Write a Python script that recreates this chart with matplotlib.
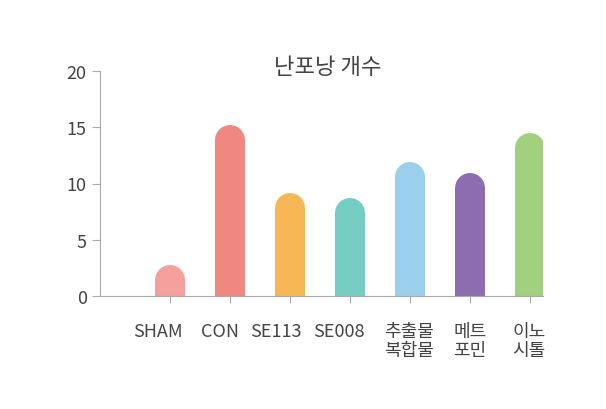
import matplotlib
matplotlib.use('Agg')
import matplotlib.pyplot as plt
import matplotlib.transforms as mtransforms

plt.rcParams['font.family'] = ['Noto Sans CJK KR', 'DejaVu Sans']

labels = ['SHAM', 'CON', 'SE113', 'SE008', '추출물\n복합물', '메트\n포민', '이노\n시톨']
values = [2.8, 15.2, 9.2, 8.7, 11.9, 10.9, 14.5]
colors = ['#f4a09c', '#ee8880', '#f8b755', '#74cdc0', '#9bcfec', '#8d6cb0', '#a1d07e']
label_shift_px = [-12, -10, -14, -11, -1, 0, -1]

fig = plt.figure(figsize=(6.06, 4.10), dpi=100)
ax = fig.add_axes([100/606, 113/410, 443/606, 225/410])
ax.set_xlim(-1.17, 6.22)
ax.set_ylim(0, 20)

# rounded-top bars: thick line with round cap, bottom cap clipped by axes
bar_px = 30
lw = bar_px * 72 / 100
r = (bar_px / 2) / (225 / 20)
for i, (v, c) in enumerate(zip(values, colors)):
    ax.plot([i, i], [-2, v - r], color=c, linewidth=lw, solid_capstyle='round')

for s in ['top', 'right']:
    ax.spines[s].set_visible(False)
for s in ['left', 'bottom']:
    ax.spines[s].set_color('#aaaaaa')
ax.set_yticks([0, 5, 10, 15, 20])
ax.set_xticks(range(len(labels)))
ax.set_xticklabels([])
ax.tick_params(axis='y', colors='#aaaaaa', labelcolor='#444444', labelsize=13, length=6)
ax.tick_params(axis='x', colors='#aaaaaa', length=5)

for i, (lab, dx) in enumerate(zip(labels, label_shift_px)):
    tr = ax.get_xaxis_transform() + mtransforms.ScaledTranslation(dx / 100, -26 / 100, fig.dpi_scale_trans)
    ax.text(i, 0, lab, transform=tr, ha='center', va='top', fontsize=13,
            color='#444444', linespacing=1.05)

fig.text(328/606, 1 - 68/410, '난포낭 개수', ha='center', va='center', fontsize=16, color='#444444')
fig.savefig('out.png', dpi=100)
